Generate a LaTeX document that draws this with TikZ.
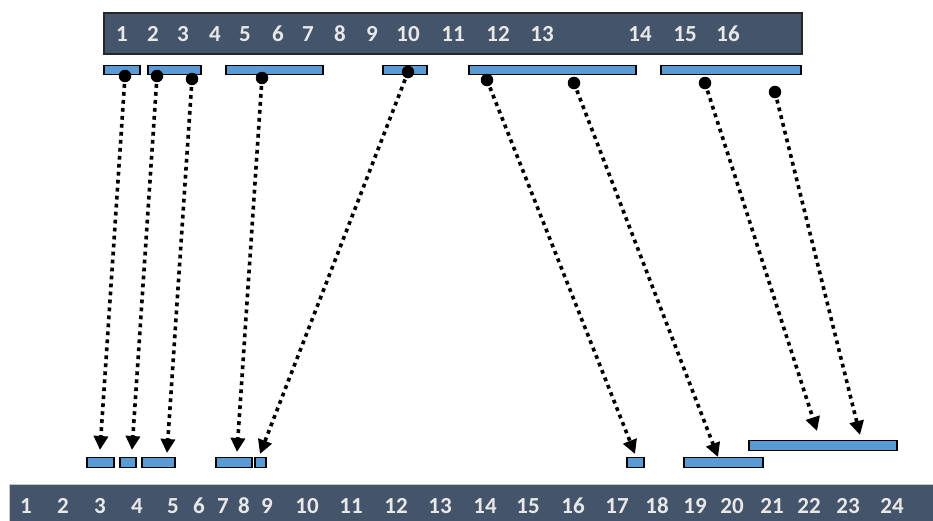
\documentclass[tikz,border=0pt]{standalone}
\usepackage{fontspec}
\setsansfont{Carlito}
\usepackage{xcolor}
\usepackage{tikz}
\usetikzlibrary{arrows.meta}
\definecolor{bandfill}{RGB}{68,84,106}
\definecolor{bandline}{RGB}{38,38,38}
\definecolor{segfill}{RGB}{91,155,213}
\definecolor{numtext}{RGB}{232,232,232}

\begin{document}
\begin{tikzpicture}[
      x=1pt,y=-1pt,
      band/.style={draw=bandline,fill=bandfill,line width=1.6pt,inner sep=0pt},
      segbar/.style={draw=black,fill=segfill,line width=1.3pt,inner sep=0pt,
                     minimum height=9.5pt},
      num/.style={text=numtext,inner sep=0pt,
                  font=\sffamily\bfseries\fontsize{23}{23}\selectfont},
      dot/.style={circle,fill=black,inner sep=0pt,minimum size=12.5pt},
      every edge/.style={draw,line width=3.6pt,dash pattern=on 3.8pt off 4.2pt,
                         -{Triangle[length=14pt,width=14pt]}}]

    \useasboundingbox (0,0) rectangle (933,520);

    % numbered bands
    \node[band,minimum width=698pt,minimum height=41pt] (topband) at (453,33.5) {};
    \node[band,draw=gray!45,line width=0.8pt,minimum width=931pt,minimum height=42pt]
      (botband) at (474.5,505) {};

    \foreach \x/\n in {122/1,153/2,183/3,215/4,245/5,278/6,308/7,340/8,372/9,
                       408/10,453/11,498/12,542/13,640/14,685/15,728/16}
      \node[num] (tn\n) at (\x,34) {\n};

    \foreach \x/\n in {26/1,63/2,100/3,137/4,173/5,199/6,223/7,244/8,267/9,
                       307/10,351/11,396/12,440/13,485/14,528/15,573/16,
                       617/17,657/18,695/19,732/20,772/21,809/22,848/23,892/24}
      \node[num] (bn\n) at (\x,506) {\n};

    % source segments
    \node[segbar,minimum width=36pt]  (s1) at (122,70) {};
    \node[segbar,minimum width=53pt]  (s2) at (174.5,70) {};
    \node[segbar,minimum width=97pt]  (s3) at (274.5,70) {};
    \node[segbar,minimum width=44pt]  (s4) at (405,70) {};
    \node[segbar,minimum width=167pt] (s5) at (552.5,70) {};
    \node[segbar,minimum width=140pt] (s6) at (731,70) {};

    % target segments
    \node[segbar,minimum width=27pt]  (r1) at (100.5,462.5) {};
    \node[segbar,minimum width=16pt]  (r2) at (128,462.5) {};
    \node[segbar,minimum width=33pt]  (r3) at (158.5,462.5) {};
    \node[segbar,minimum width=36pt]  (r4) at (234,462.5) {};
    \node[segbar,minimum width=11pt]  (r5) at (260.5,462.5) {};
    \node[segbar,minimum width=17pt]  (r6) at (635.5,462.5) {};
    \node[segbar,minimum width=79pt]  (r7) at (723.5,462.5) {};
    \node[segbar,minimum width=148pt] (r8) at (823,445.5) {};

    % start dots
    \node[dot] (d1) at (125,76) {};
    \node[dot] (d2) at (157,76) {};
    \node[dot] (d3) at (192,79) {};
    \node[dot] (d4) at (262,78) {};
    \node[dot] (d5) at (408,72) {};
    \node[dot] (d6) at (487,80) {};
    \node[dot] (d7) at (574,83) {};
    \node[dot] (d8) at (705,83) {};
    \node[dot] (d9) at (775,92) {};

    % arrow ends
    \coordinate (e1) at (100,450);
    \coordinate (e2) at (132,450);
    \coordinate (e3) at (167,453);
    \coordinate (e4) at (237,452);
    \coordinate (e5) at (260,454);
    \coordinate (e6) at (635,454);
    \coordinate (e7) at (718,457);
    \coordinate (e8) at (817,431);
    \coordinate (e9) at (860,435);

    \draw (d1.center) edge (e1);
    \draw (d2.center) edge (e2);
    \draw (d3.center) edge (e3);
    \draw (d4.center) edge (e4);
    \draw (d5.center) edge (e5);
    \draw (d6.center) edge (e6);
    \draw (d7.center) edge (e7);
    \draw (d8.center) edge (e8);
    \draw (d9.center) edge (e9);
  \end{tikzpicture}
\end{document}
